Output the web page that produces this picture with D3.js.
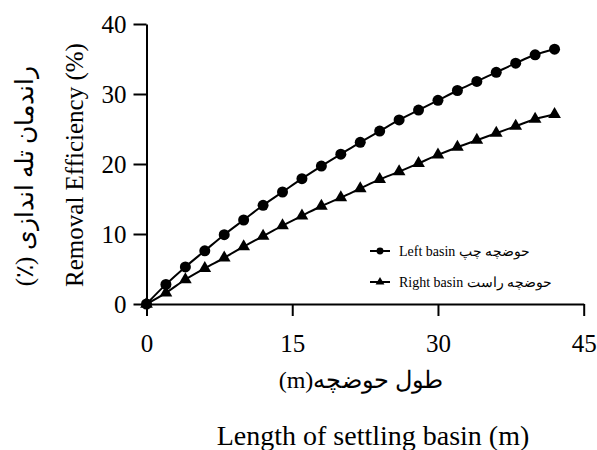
<!DOCTYPE html>
<html>
<head>
<meta charset="utf-8">
<script src="https://cdn.jsdelivr.net/npm/d3@7"></script>
<style>
  html, body { margin: 0; padding: 0; background: #fff; }
  svg { display: block; }
  text { font-family: "Liberation Serif", "Times New Roman", serif; fill: #000; }
</style>
</head>
<body>
<svg id="chart" width="597" height="450"></svg>
<script>
// ---- data ----
const lengths = [0, 2, 4, 6, 8, 10, 12, 14, 16, 18, 20, 22, 24, 26, 28, 30, 32, 34, 36, 38, 40, 42];
const leftBasin = [0, 2.8, 5.3, 7.6, 9.9, 12.0, 14.1, 16.0, 17.9, 19.7, 21.4, 23.1, 24.7, 26.3, 27.7, 29.1, 30.5, 31.8, 33.1, 34.4, 35.6, 36.4];
const rightBasin = [0, 1.6, 3.5, 5.1, 6.6, 8.2, 9.7, 11.2, 12.6, 14.0, 15.2, 16.5, 17.8, 18.9, 20.1, 21.3, 22.4, 23.4, 24.4, 25.4, 26.4, 27.1];
const xTicks = [0, 15, 30, 45];
const yTicks = [0, 10, 20, 30, 40];
const seriesNames = ["Left basin حوضچه چپ", "Right basin حوضچه راست"];
const yTitleFa = "راندمان تله اندازی (٪)";
const yTitleEn = "Removal Efficiency (%)";
const xTitleFa = "طول حوضچه(m)";
const xTitleEn = "Length of settling basin (m)";

// ---- layout ----
const svg = d3.select("#chart");
const x = d3.scaleLinear().domain([0, 45]).range([146.5, 583.7]);
const y = d3.scaleLinear().domain([0, 40]).range([304, 24]);

// axes
const gx = svg.append("g").attr("transform", `translate(0,${y(0)})`)
  .call(d3.axisBottom(x).tickValues(xTicks).tickSize(12).tickSizeOuter(0).tickPadding(18).tickFormat(d3.format("d")));
const gy = svg.append("g").attr("transform", `translate(${x(0)},0)`)
  .call(d3.axisLeft(y).tickValues(yTicks).tickSize(13).tickSizeOuter(0).tickPadding(7).tickFormat(d3.format("d")));
[gx, gy].forEach(g => {
  g.selectAll("path.domain, line").attr("stroke", "#000").attr("stroke-width", 2);
  g.selectAll("text").attr("font-size", 25).attr("fill", "#000");
});

// series
const series = [
  { values: leftBasin, symbol: d3.symbolCircle, size: 95, name: seriesNames[0] },
  { values: rightBasin, symbol: d3.symbolTriangle, size: 70, name: seriesNames[1] }
];
const line = d3.line().x(d => x(d[0])).y(d => y(d[1])).curve(d3.curveMonotoneX);
series.forEach(s => {
  const pts = lengths.map((l, i) => [l, s.values[i]]);
  svg.append("path").datum(pts).attr("d", line)
    .attr("fill", "none").attr("stroke", "#000").attr("stroke-width", 2);
  svg.append("g").selectAll("path").data(pts).join("path")
    .attr("d", d3.symbol().type(s.symbol).size(s.size))
    .attr("transform", d => `translate(${x(d[0])},${y(d[1])})`)
    .attr("fill", "#000");
});

// legend
const legend = svg.append("g");
series.forEach((s, i) => {
  const ly = 251 + i * 31;
  legend.append("line").attr("x1", 370).attr("x2", 390).attr("y1", ly).attr("y2", ly)
    .attr("stroke", "#000").attr("stroke-width", 2);
  legend.append("path").attr("d", d3.symbol().type(s.symbol).size(i === 0 ? 38 : 34)())
    .attr("transform", `translate(380,${ly})`).attr("fill", "#000");
  legend.append("text").attr("x", 399).attr("y", ly + 4.5).attr("font-size", 14).text(s.name);
});

// axis titles
svg.append("text").attr("transform", "translate(83,165) rotate(-90)")
  .attr("text-anchor", "middle").attr("font-size", 25).text(yTitleEn);
svg.append("text").attr("transform", "translate(33,176) rotate(-90)")
  .attr("text-anchor", "middle").attr("direction", "rtl").attr("font-size", 25).text(yTitleFa);
svg.append("text").attr("x", 361).attr("y", 388)
  .attr("text-anchor", "middle").attr("direction", "rtl").attr("font-size", 24).text(xTitleFa);
svg.append("text").attr("x", 373).attr("y", 445)
  .attr("text-anchor", "middle").attr("font-size", 28).text(xTitleEn);
</script>
</body>
</html>
